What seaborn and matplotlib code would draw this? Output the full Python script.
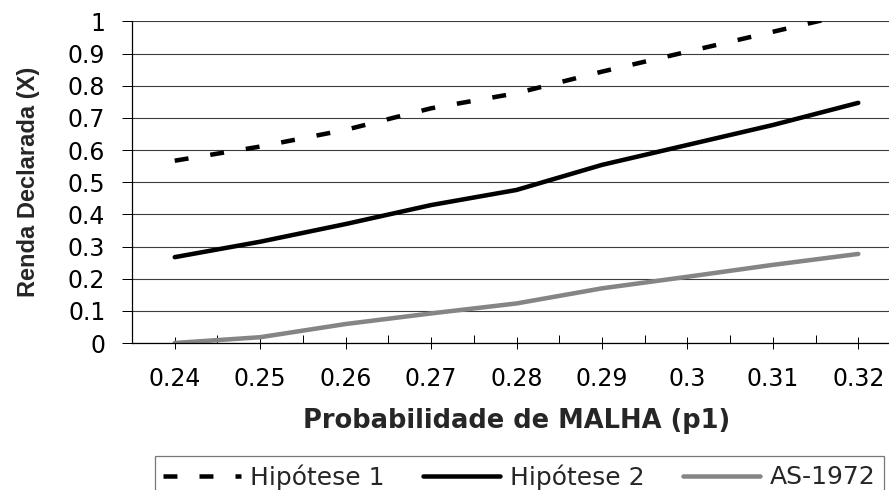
import matplotlib
matplotlib.use("Agg")
import matplotlib.pyplot as plt
from matplotlib.ticker import FixedLocator
import seaborn as sns

# Probability of MALHA (p1) and the declared income under each hypothesis
p1 = [0.24, 0.25, 0.26, 0.27, 0.28, 0.29, 0.30, 0.31, 0.32]
p1_labels = ["0.24", "0.25", "0.26", "0.27", "0.28", "0.29", "0.3", "0.31", "0.32"]
p1_minor = [0.245, 0.255, 0.265, 0.275, 0.285, 0.295, 0.305, 0.315]

hipotese_1 = [0.567, 0.611, 0.663, 0.730, 0.777, 0.844, 0.906, 0.968, 1.03]
hipotese_2 = [0.267, 0.315, 0.370, 0.429, 0.476, 0.554, 0.616, 0.678, 0.747]
as_1972 = [0.0, 0.018, 0.059, 0.092, 0.123, 0.170, 0.206, 0.243, 0.277]

y_ticks = [0, 0.1, 0.2, 0.3, 0.4, 0.5, 0.6, 0.7, 0.8, 0.9, 1.0]
y_labels = ["0", "0.1", "0.2", "0.3", "0.4", "0.5", "0.6", "0.7", "0.8", "0.9", "1"]

series_names = ["Hipótese 1", "Hipótese 2", "AS-1972"]

sns.set_style("white")
plt.rcParams["font.family"] = ["DejaVu Sans"]

PX = 0.72  # one pixel in points at 100 dpi

fig = plt.figure(figsize=(8.89, 4.9), dpi=100)
ax = fig.add_axes([132 / 889, 147 / 490, 769 / 889, 321.5 / 490])

lw = 4.5 * PX
sns.lineplot(x=p1, y=hipotese_1, color="black", linewidth=lw,
             linestyle=(0, (3.1, 4.9)), dash_capstyle="butt", ax=ax)
sns.lineplot(x=p1, y=hipotese_2, color="black", linewidth=lw,
             solid_capstyle="round", ax=ax)
sns.lineplot(x=p1, y=as_1972, color="#858585", linewidth=lw,
             solid_capstyle="round", ax=ax)

ax.set_xlim(0.235, 0.325)
ax.set_ylim(0, 1)

ax.set_xticks(p1)
ax.set_xticklabels(p1_labels)
ax.xaxis.set_minor_locator(FixedLocator(p1_minor))
ax.set_yticks(y_ticks)
ax.set_yticklabels(y_labels)

ax.tick_params(axis="x", which="major", direction="inout", length=12 * PX,
               width=PX, color="black", pad=13, labelsize=17, labelcolor="black",
               bottom=True)
ax.tick_params(axis="x", which="minor", direction="in", length=8 * PX,
               width=PX, color="black", bottom=True)
ax.tick_params(axis="y", which="major", direction="out", length=10 * PX,
               width=PX, color="black", pad=12, labelsize=17, labelcolor="black",
               left=True)

ax.set_axisbelow(True)
ax.yaxis.grid(True, color="#3c3c3c", linewidth=0.8)
ax.xaxis.grid(False)

for side in ("top", "right"):
    ax.spines[side].set_visible(False)
for side in ("left", "bottom"):
    ax.spines[side].set_color("black")
    ax.spines[side].set_linewidth(0.9)

ax.set_xlabel("Probabilidade de MALHA (p1)", fontsize=18.5, fontweight="bold",
              labelpad=12.5)
ax.set_ylabel("Renda Declarada (X)", fontsize=17, fontweight="bold",
              family=["Liberation Sans", "DejaVu Sans"], labelpad=20)

handles = ax.get_lines()[:3]
leg = ax.legend(handles, series_names, ncol=3, mode="expand",
                loc="upper left",
                bbox_to_anchor=(155 / 889, 1 - 456 / 490, (884 - 155) / 889, 0),
                bbox_transform=fig.transFigure, borderaxespad=0,
                fontsize=18, handlelength=3.1, handletextpad=0.4,
                borderpad=0.32, fancybox=False, frameon=True)
leg.get_frame().set_edgecolor("#555555")
leg.get_frame().set_linewidth(0.9)

fig.savefig("out.png", dpi=100)
